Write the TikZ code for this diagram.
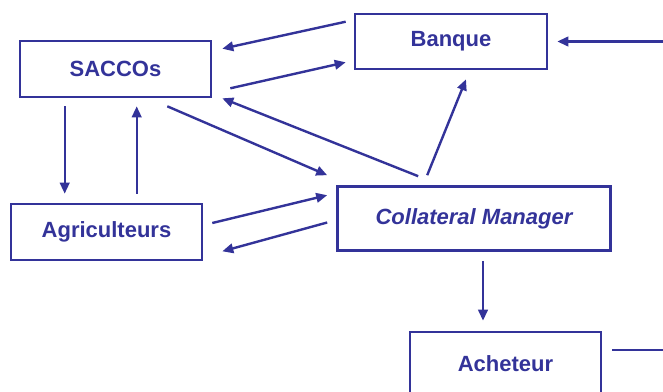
\documentclass[tikz,border=0pt]{standalone}
\usepackage{fontspec}
\setmainfont{Liberation Sans}
\usetikzlibrary{arrows.meta}
\definecolor{flowblue}{HTML}{333399}
\begin{document}
\begin{tikzpicture}[x=1pt,y=-1pt,
  actor/.style={draw=flowblue, line width=2.6pt, text=flowblue,
    font=\fontsize{22}{26}\selectfont\bfseries, inner sep=0pt,
    minimum width=191pt, minimum height=56pt},
  flow/.style={draw=flowblue, line width=2.4pt,
    -{Triangle[length=11pt,width=9.5pt]}},
  plain/.style={draw=flowblue, line width=2.4pt}]
  \useasboundingbox (0,0) rectangle (663,391);
  \clip (0,0) rectangle (663,391);

  % participants
  \node[actor] (sacco) at (115.5,69) {SACCOs};
  \node[actor, minimum width=192pt, minimum height=55pt] (bank) at (451,41.5) {Banque};
  \node[actor] (farm) at (106.5,232) {Agriculteurs};
  \node[actor, minimum width=273pt, minimum height=64pt, font=\fontsize{22}{26}\selectfont\bfseries\itshape] (cm) at (474,218.5) {Collateral Manager};
  \node[actor, minimum height=64pt] (buyer) at (505.5,364) {Acheteur};

  % loose ends at the right edge
  \coordinate (inR) at (666,41.5);
  \coordinate (outR) at (666,350);

  % SACCOs <-> Banque
  \draw[flow] ([shift={(-8,9)}]bank.north west) -- ([shift={(10,9)}]sacco.north east);
  \draw[flow] ([shift={(18,-10)}]sacco.south east) -- ([shift={(-8,-8)}]bank.south west);

  % SACCOs <-> Collateral Manager
  \draw[flow] ([shift={(82,-9)}]cm.north west) -- ([shift={(10,0)}]sacco.south east);
  \draw[flow] ([shift={(-45,8)}]sacco.south east) -- ([shift={(-9,-10)}]cm.north west);

  % Collateral Manager -> Banque
  \draw[flow] ([shift={(91,-10)}]cm.north west) -- ([shift={(15,9)}]bank.south);

  % SACCOs <-> Agriculteurs
  \draw[flow] ([shift={(46,8)}]sacco.south west) -- ([shift={(55,-9)}]farm.north west);
  \draw[flow] ([shift={(127,-9)}]farm.north west) -- ([shift={(118,8)}]sacco.south west);

  % Agriculteurs <-> Collateral Manager
  \draw[flow] ([shift={(9,-9)}]farm.east) -- ([shift={(-9,10)}]cm.north west);
  \draw[flow] ([shift={(-9,4)}]cm.west) -- ([shift={(19,-10)}]farm.south east);

  % Collateral Manager -> Acheteur
  \draw[flow] ([shift={(9,9)}]cm.south) -- ([shift={(-22.5,-10)}]buyer.north);

  % return loop along the right edge
  \draw[flow] (inR) -- ([shift={(9,0)}]bank.east);
  \draw[plain] ([shift={(10,-14)}]buyer.east) -- (outR);
\end{tikzpicture}
\end{document}
